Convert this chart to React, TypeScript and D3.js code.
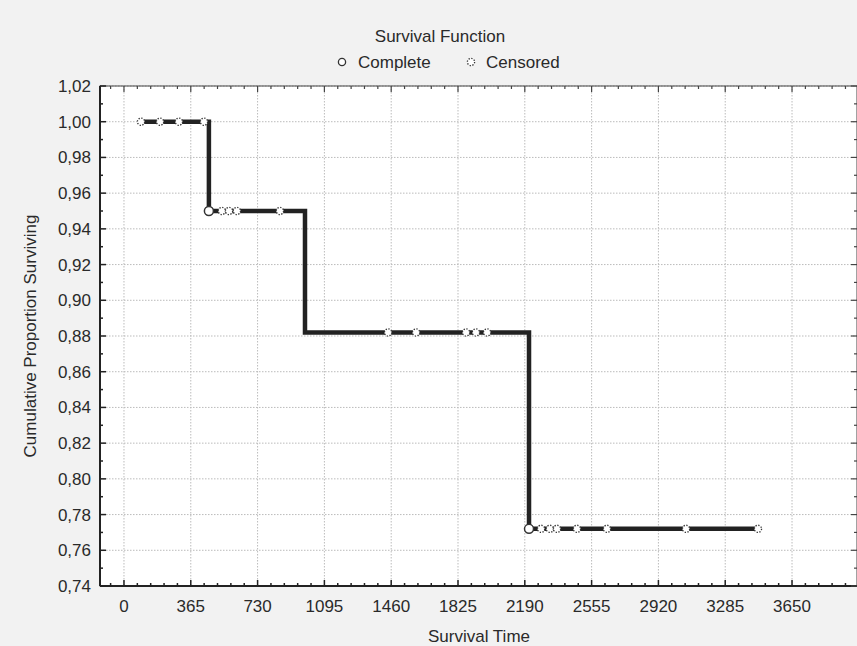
import React from "react";
import * as d3 from "d3";

const WIDTH = 857;
const HEIGHT = 646;
const MARGIN = { top: 86, right: 0, bottom: 60, left: 100 };

// Kaplan-Meier steps (days, proportion)
const startTime = 93;
const eventTimes = [464, 989, 2213];
const survivalAfter = [0.95, 0.882, 0.772];
const endTime = 3464;

// open circles drawn at these events
const completeTimes = [464, 2213];

// censored observations
const censoredTimes = [
  93, 197, 300, 437, 535, 574, 617, 852, 1443, 1596, 1869, 1923, 1984, 2279, 2327, 2366, 2475, 2639,
  3071, 3464,
];

const xTicks = [0, 365, 730, 1095, 1460, 1825, 2190, 2555, 2920, 3285, 3650];
const yTicks = [0.74, 0.76, 0.78, 0.8, 0.82, 0.84, 0.86, 0.88, 0.9, 0.92, 0.94, 0.96, 0.98, 1.0, 1.02];

const FONT = "'Liberation Sans', Arial, sans-serif";
const TEXT = "#2a2a2a";

const survivalAt = (t: number) => {
  let s = 1;
  eventTimes.forEach((e, i) => {
    if (t >= e) s = survivalAfter[i];
  });
  return s;
};

const CensorMark = ({ x, y }: { x: number; y: number }) => (
  <circle cx={x} cy={y} r={3.6} fill="#fff" stroke="#333" strokeWidth={1.3} strokeDasharray="1.3,1.5" />
);

const App = () => {
  const boundsWidth = WIDTH - MARGIN.left - MARGIN.right;
  const boundsHeight = HEIGHT - MARGIN.top - MARGIN.bottom;

  const xScale = d3.scaleLinear().domain([-131, 4005]).range([0, boundsWidth]);
  const yScale = d3.scaleLinear().domain([0.74, 1.02]).range([boundsHeight, 0]);

  const minorX = d3.range(-73, 4005, 73).filter((v) => xScale(v) > 1 && xScale(v) < boundsWidth - 1);
  const minorY = d3.range(0.74, 1.0201, 0.01);

  const stepPoints: [number, number][] = [
    [startTime, 1],
    ...eventTimes.map((t, i) => [t, survivalAfter[i]] as [number, number]),
    [endTime, survivalAfter[survivalAfter.length - 1]],
  ];
  const line = d3
    .line<[number, number]>()
    .x((d) => xScale(d[0]))
    .y((d) => yScale(d[1]))
    .curve(d3.curveStepAfter);

  return (
    <div style={{ position: "absolute", left: 0, top: 0 }}>
      <svg width={WIDTH} height={HEIGHT} style={{ display: "block", background: "#f2f2f2" }} fontFamily={FONT}>
        <text x={440} y={42} textAnchor="middle" fontSize={17} fill={TEXT}>
          Survival Function
        </text>
        <circle cx={342} cy={62} r={3.6} fill="#fff" stroke="#333" strokeWidth={1.3} />
        <text x={358} y={68} fontSize={17} fill={TEXT}>
          Complete
        </text>
        <CensorMark x={471} y={62} />
        <text x={486} y={68} fontSize={17} fill={TEXT}>
          Censored
        </text>

        <g transform={`translate(${MARGIN.left},${MARGIN.top})`}>
          <rect width={boundsWidth} height={boundsHeight} fill="#fff" />
          {/* grid */}
          {xTicks.map((t) => (
            <line
              key={`gx${t}`}
              x1={xScale(t)}
              x2={xScale(t)}
              y1={0}
              y2={boundsHeight}
              stroke="#bbb"
              strokeDasharray="1.5,1.5"
            />
          ))}
          {yTicks.map((t) => (
            <line
              key={`gy${t}`}
              x1={0}
              x2={boundsWidth}
              y1={yScale(t)}
              y2={yScale(t)}
              stroke="#bbb"
              strokeDasharray="1.5,1.5"
            />
          ))}
          {/* frame */}
          <rect width={boundsWidth} height={boundsHeight} fill="none" stroke="#444" strokeWidth={1} />
          <line x1={0} x2={0} y1={0} y2={boundsHeight} stroke="#222" strokeWidth={2} />
          <line x1={0} x2={boundsWidth} y1={boundsHeight} y2={boundsHeight} stroke="#222" strokeWidth={2} />
          {/* x ticks */}
          {minorX.map((t) => {
            const major = xTicks.includes(t);
            const len = major ? 6 : 3;
            return (
              <g key={`tx${t}`}>
                <line x1={xScale(t)} x2={xScale(t)} y1={boundsHeight} y2={boundsHeight - len} stroke="#222" strokeWidth={1.5} />
                <line x1={xScale(t)} x2={xScale(t)} y1={0} y2={len} stroke="#444" strokeWidth={1.2} />
              </g>
            );
          })}
          {xTicks.map((t) => (
            <text key={`lx${t}`} x={xScale(t)} y={boundsHeight + 26} textAnchor="middle" fontSize={17} fill={TEXT}>
              {t}
            </text>
          ))}
          {/* y ticks */}
          {minorY.map((t, i) => {
            const len = i % 2 === 0 ? 6 : 3;
            return (
              <g key={`ty${i}`}>
                <line x1={0} x2={len} y1={yScale(t)} y2={yScale(t)} stroke="#222" strokeWidth={1.5} />
                <line x1={boundsWidth} x2={boundsWidth - len} y1={yScale(t)} y2={yScale(t)} stroke="#444" strokeWidth={1.2} />
              </g>
            );
          })}
          {yTicks.map((t) => (
            <text key={`ly${t}`} x={-9} y={yScale(t) + 6} textAnchor="end" fontSize={17} fill={TEXT}>
              {t.toFixed(2).replace(".", ",")}
            </text>
          ))}

          {/* survival step */}
          <path d={line(stepPoints) ?? ""} fill="none" stroke="#222" strokeWidth={4.5} strokeLinejoin="miter" />
          {censoredTimes.map((t) => (
            <CensorMark key={`c${t}`} x={xScale(t)} y={yScale(survivalAt(t))} />
          ))}
          {completeTimes.map((t) => (
            <circle
              key={`o${t}`}
              cx={xScale(t)}
              cy={yScale(survivalAt(t))}
              r={4.5}
              fill="#fff"
              stroke="#333"
              strokeWidth={1.5}
            />
          ))}
        </g>

        <text
          transform={`translate(36,${MARGIN.top + boundsHeight / 2}) rotate(-90)`}
          textAnchor="middle"
          fontSize={17}
          fill={TEXT}
        >
          Cumulative Proportion Surviving
        </text>
        <text x={479} y={642} textAnchor="middle" fontSize={17} fill={TEXT}>
          Survival Time
        </text>
      </svg>
    </div>
  );
};

export default App;
